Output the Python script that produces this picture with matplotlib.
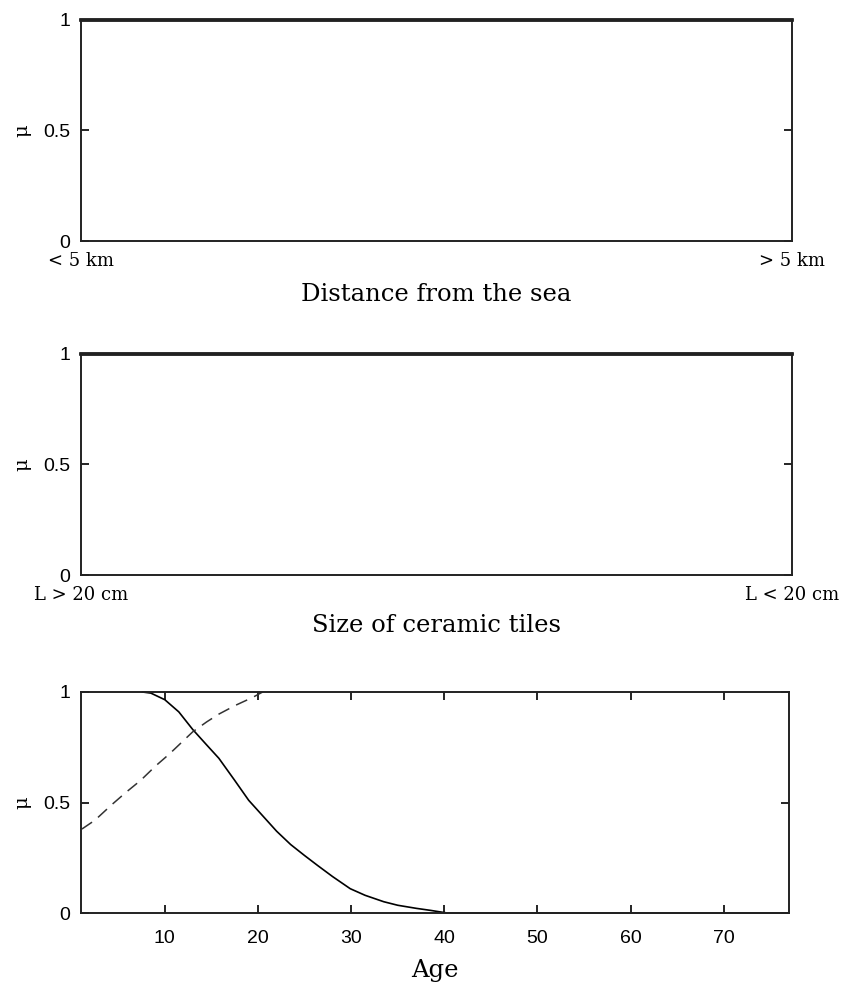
import matplotlib
matplotlib.use("Agg")
import matplotlib.pyplot as plt

# Membership functions (mu) for three input variables
dist_labels = ["< 5 km", "> 5 km"]
dist_mu = [1.0, 1.0]

tile_labels = ["L > 20 cm", "L < 20 cm"]
tile_mu = [1.0, 1.0]

age_young_x = [7.6, 8.5, 10.0, 11.5, 13.0, 14.5, 15.8, 17.5, 19.0, 20.5, 22.0, 23.5, 25.0,
               26.4, 28.0, 29.9, 31.5, 33.5, 35.0, 37.0, 38.5, 40.3, 50.0, 60.0, 70.0, 77.0]
age_young_mu = [1.0, 0.995, 0.965, 0.91, 0.83, 0.76, 0.70, 0.60, 0.51, 0.44, 0.37, 0.31, 0.26,
                0.215, 0.165, 0.11, 0.08, 0.051, 0.035, 0.021, 0.012, 0.0, 0.0, 0.0, 0.0, 0.0]

age_old_x = [1.1, 2.5, 4.3, 5.8, 7.4, 9.0, 10.5, 11.5, 13.0, 14.5, 15.8, 17.6, 19.4, 20.5]
age_old_mu = [0.38, 0.42, 0.49, 0.545, 0.60, 0.665, 0.72, 0.76, 0.82, 0.865, 0.90, 0.94, 0.975, 1.0]

age_ticks = [10, 20, 30, 40, 50, 60, 70]

W, H = 846, 988
fig = plt.figure(figsize=(W / 100, H / 100), dpi=100)

num_font = "Liberation Sans"
txt_font = "DejaVu Serif"


def frame(ax):
    for s in ax.spines.values():
        s.set_linewidth(1.4)
        s.set_color("#222222")
    ax.set_ylim(0, 1)
    ax.set_yticks([0, 0.5, 1])
    ax.set_yticklabels(["0", "0.5", "1"], family=num_font, fontsize=14)
    ax.tick_params(axis="y", direction="in", length=6, width=1.2, right=True, pad=8)
    ax.set_ylabel("\u03bc", family=txt_font, fontsize=14, labelpad=8)


def add_axes(top, bottom, left=81, right=792):
    return fig.add_axes([left / W, 1 - bottom / H, (right - left) / W, (bottom - top) / H])


# Panel 1: distance from the sea
ax1 = add_axes(20, 241)
frame(ax1)
ax1.plot([0, 1], dist_mu, color="black", lw=2.6, clip_on=False)
ax1.set_xlim(0, 1)
ax1.set_xticks([0, 1])
ax1.set_xticklabels(dist_labels, family=txt_font, fontsize=13)
ax1.tick_params(axis="x", length=0, pad=8)
ax1.set_xlabel("Distance from the sea", family=txt_font, fontsize=17.5, labelpad=9)

# Panel 2: size of ceramic tiles
ax2 = add_axes(354, 575)
frame(ax2)
ax2.plot([0, 1], tile_mu, color="black", lw=2.6, clip_on=False)
ax2.set_xlim(0, 1)
ax2.set_xticks([0, 1])
ax2.set_xticklabels(tile_labels, family=txt_font, fontsize=13)
ax2.tick_params(axis="x", length=0, pad=8)
ax2.set_xlabel("Size of ceramic tiles", family=txt_font, fontsize=17.5, labelpad=7)

# Panel 3: age
ax3 = add_axes(692, 913, right=789)
frame(ax3)
ax3.plot(age_young_x, age_young_mu, color="black", lw=1.2, clip_on=False)
ax3.plot(age_old_x, age_old_mu, color="#333333", lw=1.1, dashes=(8, 5))
ax3.set_xlim(1, 77)
ax3.set_xticks(age_ticks)
ax3.set_xticklabels([str(t) for t in age_ticks], family=num_font, fontsize=14)
ax3.tick_params(axis="x", direction="in", length=6, width=1.2, top=True, pad=12)
ax3.set_xlabel("Age", family=txt_font, fontsize=17.5, labelpad=9)

fig.savefig("out.png", dpi=100, facecolor="white")
